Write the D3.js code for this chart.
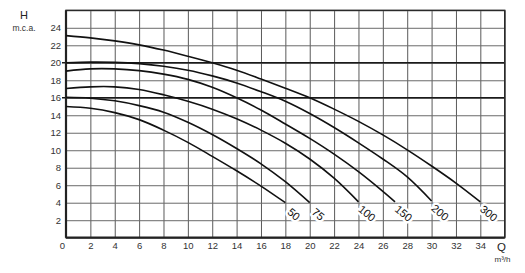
<!DOCTYPE html>
<html>
<head>
<meta charset="utf-8">
<script src="https://cdn.jsdelivr.net/npm/d3@7"></script>
<style>
  html, body { margin: 0; padding: 0; background: #fff; }
  svg { display: block; }
  text { font-family: "Liberation Sans", Arial, sans-serif; }
</style>
</head>
<body>
<svg id="chart" width="525" height="273"></svg>
<script>
// ---- data ----
const qTicks = [0, 2, 4, 6, 8, 10, 12, 14, 16, 18, 20, 22, 24, 26, 28, 30, 32, 34];
const hTicks = [2, 4, 6, 8, 10, 12, 14, 16, 18, 20, 22, 24];
const seriesNames = ["50", "75", "100", "150", "200", "300"];

const q50 = [0, 2, 4, 6, 8, 10, 12, 14, 16, 18];
const h50 = [15.0, 14.8, 14.3, 13.5, 12.3, 10.9, 9.3, 7.65, 5.9, 4.0];

const q75 = [0, 2, 4, 6, 8, 10, 12, 14, 16, 18, 20];
const h75 = [16.05, 15.95, 15.65, 15.1, 14.35, 13.2, 11.8, 10.2, 8.45, 6.4, 4.0];

const q100 = [0, 2, 4, 6, 8, 10, 12, 14, 16, 18, 20, 22, 24];
const h100 = [17.05, 17.25, 17.25, 16.95, 16.35, 15.6, 14.7, 13.6, 12.3, 10.8, 9.0, 6.8, 4.1];

const q150 = [0, 2, 4, 6, 8, 10, 12, 14, 16, 18, 20, 22, 24, 26, 27];
const h150 = [19.05, 19.3, 19.3, 19.1, 18.7, 18.1, 17.2, 16.0, 14.6, 13.0, 11.35, 9.55, 7.55, 5.3, 4.1];

const q200 = [0, 2, 4, 6, 8, 10, 12, 14, 16, 18, 20, 22, 24, 26, 28, 30];
const h200 = [20.0, 20.08, 20.05, 19.9, 19.6, 19.15, 18.5, 17.7, 16.7, 15.6, 14.2, 12.6, 10.85, 9.0, 6.95, 4.2];

const q300 = [0, 2, 4, 6, 8, 10, 12, 14, 16, 18, 20, 22, 24, 26, 28, 30, 32, 34];
const h300 = [23.1, 22.85, 22.5, 22.05, 21.45, 20.75, 20.0, 19.15, 18.15, 17.1, 16.0, 14.7, 13.3, 11.75, 10.05, 8.2, 6.25, 4.1];

const seriesQ = [q50, q75, q100, q150, q200, q300];
const seriesH = [h50, h75, h100, h150, h200, h300];
const strongH = [16, 20];

// ---- layout ----
const L = 66, T = 10.3, R = 504.7, B = 237.7;
const svg = d3.select("#chart");
const x = d3.scaleLinear().domain([0, 36]).range([L, R]);
const y = d3.scaleLinear().domain([0, 26]).range([B, T]);

// grid
svg.append("g")
  .attr("transform", `translate(0,${B})`)
  .call(d3.axisBottom(x).tickValues(d3.range(0, 37, 2)).tickSize(-(B - T)).tickFormat(""))
  .call(g => g.select(".domain").remove())
  .call(g => g.selectAll("line").attr("stroke", "#5a5a5a").attr("stroke-width", 1));

svg.append("g")
  .attr("transform", `translate(${L},0)`)
  .call(d3.axisLeft(y).tickValues(d3.range(2, 27, 2)).tickSize(-(R - L)).tickFormat(""))
  .call(g => g.select(".domain").remove())
  .call(g => g.selectAll("line").attr("stroke", "#6a6a6a").attr("stroke-width", 1));

// stronger lines at 16 and 20
svg.append("g").selectAll("line").data(strongH).join("line")
  .attr("x1", L - 4).attr("x2", R)
  .attr("y1", d => y(d)).attr("y2", d => y(d))
  .attr("stroke", "#1a1a1a").attr("stroke-width", 1.6);

// frame
svg.append("rect")
  .attr("x", L).attr("y", T).attr("width", R - L).attr("height", B - T)
  .attr("fill", "none").attr("stroke", "#2a2a2a").attr("stroke-width", 1.4);
svg.append("line").attr("x1", L).attr("x2", R).attr("y1", B).attr("y2", B)
  .attr("stroke", "#222").attr("stroke-width", 2.2);
svg.append("line").attr("x1", L).attr("x2", L).attr("y1", T).attr("y2", B)
  .attr("stroke", "#222").attr("stroke-width", 2.2);

// curves
const line = d3.line()
  .x(d => x(d[0])).y(d => y(d[1]))
  .curve(d3.curveCatmullRom.alpha(0.5));

const series = seriesNames.map((name, i) => ({
  name,
  pts: seriesQ[i].map((q, j) => [q, seriesH[i][j]])
}));

svg.append("g").selectAll("path").data(series).join("path")
  .attr("d", d => line(d.pts))
  .attr("fill", "none")
  .attr("stroke", "#111")
  .attr("stroke-width", 1.6);

// curve labels
svg.append("g").selectAll("text").data(series).join("text")
  .attr("transform", d => {
    const e = d.pts[d.pts.length - 1];
    return `translate(${x(e[0]) + 8.5},${y(e[1]) + 11.5}) rotate(40)`;
  })
  .attr("text-anchor", "middle")
  .attr("dy", "0.35em")
  .attr("font-size", 11)
  .attr("fill", "#111")
  .attr("stroke", "#fff")
  .attr("stroke-width", 5)
  .attr("paint-order", "stroke")
  .attr("stroke-linejoin", "round")
  .text(d => d.name);

// tick labels
svg.append("g")
  .attr("transform", `translate(0,${B})`)
  .call(d3.axisBottom(x).tickValues(qTicks).tickSize(0).tickPadding(5).tickFormat(d => d))
  .call(g => g.select(".domain").remove())
  .call(g => g.selectAll("text").attr("font-size", 9.5).attr("fill", "#333")
    .attr("font-family", "Liberation Sans, Arial, sans-serif")
    .attr("dx", d => d === 0 ? -4 : 0));

svg.append("g")
  .attr("transform", `translate(${L},0)`)
  .call(d3.axisLeft(y).tickValues(hTicks).tickSize(0).tickPadding(5).tickFormat(d => d))
  .call(g => g.select(".domain").remove())
  .call(g => g.selectAll("text").attr("font-size", 9.5).attr("fill", "#333")
    .attr("font-family", "Liberation Sans, Arial, sans-serif"));

// axis titles
svg.append("text").attr("x", 24).attr("y", 19).attr("text-anchor", "middle")
  .attr("font-size", 11).attr("fill", "#222").text("H");
svg.append("text").attr("x", 24).attr("y", 30.5).attr("text-anchor", "middle")
  .attr("font-size", 8.5).attr("fill", "#333").text("m.c.a.");
svg.append("text").attr("x", 501.5).attr("y", 251).attr("text-anchor", "middle")
  .attr("font-size", 11.5).attr("fill", "#222").text("Q");
svg.append("text").attr("x", 502.5).attr("y", 262).attr("text-anchor", "middle")
  .attr("font-size", 8).attr("fill", "#333").text("m³/h");
</script>
</body>
</html>
